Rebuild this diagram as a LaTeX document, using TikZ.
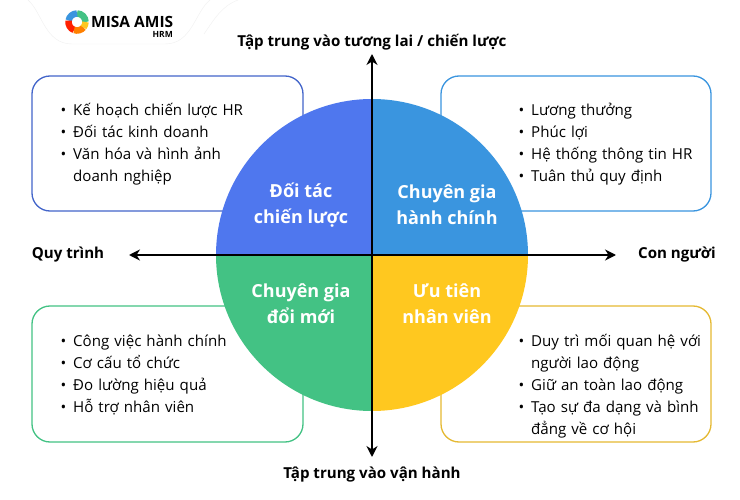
\documentclass[tikz,border=0pt]{standalone}
\usepackage{xcolor}
\usepackage{fontspec}
\setmainfont{Open Sans}
\usetikzlibrary{arrows.meta}
\definecolor{cblue}{HTML}{4F77EE}
\definecolor{csky}{HTML}{3A95DF}
\definecolor{cgreen}{HTML}{43C284}
\definecolor{cyellow}{HTML}{FFC81F}
\newenvironment{bulletlist}{\begin{list}{\textbullet}{\leftmargin=13pt\labelwidth=8pt\labelsep=7pt\itemsep=0pt\parsep=0pt\topsep=0pt\partopsep=0pt\itemindent=0pt\rightmargin=0pt}}{\end{list}}
\tikzset{
  listbox/.style={draw,line width=1.3pt,rounded corners=18pt,fill=white},
  listtext/.style={anchor=north west,inner sep=0pt,text width=#1,font=\fontsize{15.1}{22}\selectfont},
  sector/.style={font=\fontsize{18}{26}\selectfont\bfseries,text=white,align=center,inner sep=0pt},
  axis/.style={line width=2.8pt,{Stealth[length=11pt,width=11pt]}-{Stealth[length=11pt,width=11pt]}},
  axislabel/.style={font=\fontsize{15.1}{18}\selectfont\bfseries,inner sep=0pt}
}
\begin{document}
\begin{tikzpicture}[x=1pt,y=-1pt]
    \useasboundingbox (0,0) rectangle (740,500);
    \fill[white] (0,0) rectangle (740,500);
    % logo tab
    \draw[black!6,fill=white] (28,0) .. controls (42,12) and (45,44) .. (72,44)
      -- (165,44) .. controls (192,44) and (195,12) .. (210,0);
    \draw[black!6] (238,0) .. controls (222,6) and (215,18) .. (204,34);
    \foreach \from/\to/\col in {0/90/cgreen,90/170/csky,170/250/red!75!orange,250/320/orange,320/360/cyellow}
      \draw[\col,line width=6.5pt] (77,22) ++(\from:8.5pt) arc[start angle=\from,end angle=\to,radius=8.5pt];
    \node[inner sep=0pt,anchor=west,font=\fontsize{15.5}{15}\selectfont\bfseries] (logo) at (91,22) {MISA AMIS};
    \node[inner sep=0pt,anchor=north east,font=\fontsize{8.5}{8}\selectfont\bfseries] (hrm) at (173,31) {HRM};
    % boxes
    \draw[listbox,draw=cblue!85!black] (32,76) rectangle (303,211);
    \draw[listbox,draw=csky] (441,76) rectangle (711,211);
    \draw[listbox,draw=cgreen] (32,306) rectangle (303,442);
    \draw[listbox,draw=cyellow!80!gray] (441,306) rectangle (711,442);
    % circle
    \coordinate (o) at (372,255);
    \fill[cblue] (o) -- (216,255) arc[start angle=180,end angle=90,radius=156pt] -- cycle;
    \fill[csky] (o) -- (372,99) arc[start angle=90,end angle=0,radius=156pt] -- cycle;
    \fill[cyellow] (o) -- (528,255) arc[start angle=0,end angle=-90,radius=156pt] -- cycle;
    \fill[cgreen] (o) -- (372,411) arc[start angle=-90,end angle=-180,radius=156pt] -- cycle;
    \node[sector] (partner) at (301,205) {Đối tác\\chiến lược};
    \node[sector] (admin) at (447,205) {Chuyên gia\\hành chính};
    \node[sector] (change) at (301,304) {Chuyên gia\\đổi mới};
    \node[sector] (staff) at (447,304) {Ưu tiên\\nhân viên};
    % lists
    \node[listtext=186pt] (tl) at (60,93) {\begin{bulletlist}
      \item Kế hoạch chiến lược HR
      \item Đối tác kinh doanh
      \item Văn hóa và hình ảnh doanh nghiệp
    \end{bulletlist}};
    \node[listtext=190pt] (tr) at (518,93) {\begin{bulletlist}
      \item Lương thưởng
      \item Phúc lợi
      \item Hệ thống thông tin HR
      \item Tuân thủ quy định
    \end{bulletlist}};
    \node[listtext=220pt] (bl) at (60,324) {\begin{bulletlist}
      \item Công việc hành chính
      \item Cơ cấu tổ chức
      \item Đo lường hiệu quả
      \item Hỗ trợ nhân viên
    \end{bulletlist}};
    \node[listtext=187pt] (br) at (518,324) {\begin{bulletlist}
      \item Duy trì mối quan hệ với người lao động
      \item Giữ an toàn lao động
      \item Tạo sự đa dạng và bình đẳng về cơ hội
    \end{bulletlist}};
    % axes
    \coordinate (west) at (129,255);
    \coordinate (east) at (616,255);
    \coordinate (north) at (372,54);
    \coordinate (south) at (372,457);
    \draw[axis] (west) -- (east);
    \draw[axis] (south) -- (north);
    \node[axislabel] (top) at (372,42) {Tập trung vào tương lai / chiến lược};
    \node[axislabel] (bottom) at (372,475) {Tập trung vào vận hành};
    \node[axislabel] (left) at (68,255) {Quy trình};
    \node[axislabel] (right) at (677,255) {Con người};
\end{tikzpicture}
\end{document}
